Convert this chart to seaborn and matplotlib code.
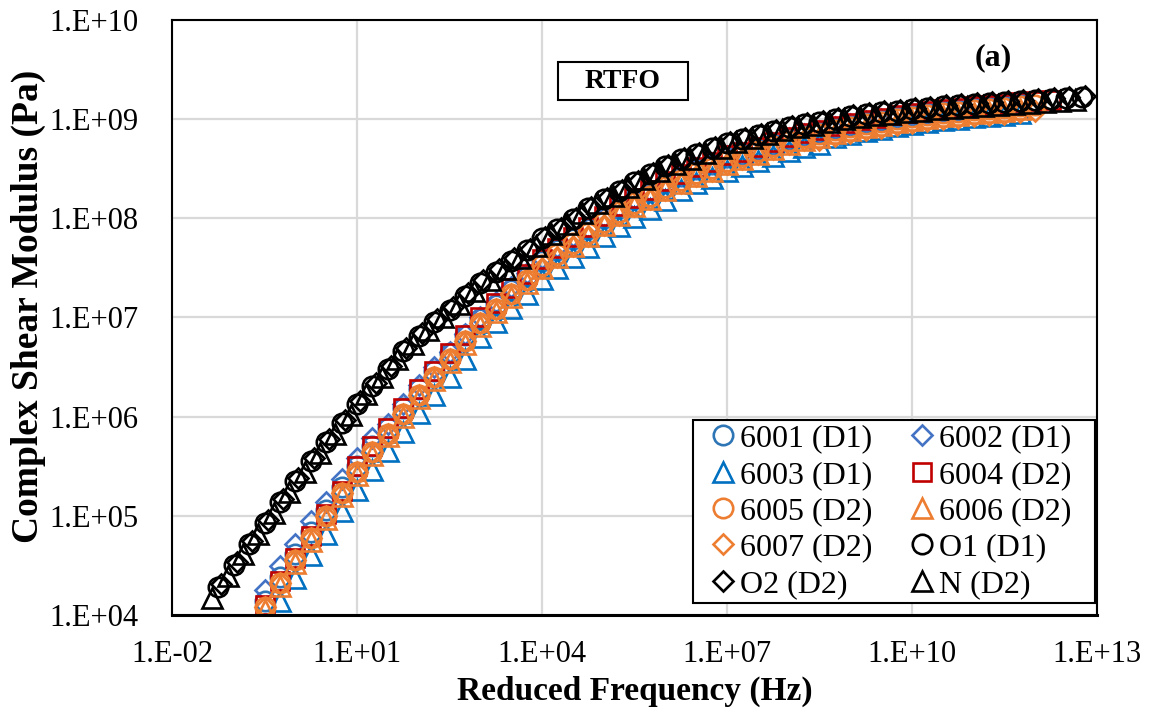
import numpy as np
import matplotlib
matplotlib.use("Agg")
import matplotlib.pyplot as plt
from matplotlib.patches import Rectangle
from matplotlib.ticker import NullLocator
import seaborn as sns

# Reduced-frequency grid: log10(f) of the first point of each curve, quarter-decade spacing
STEP = 0.25
start_6001 = -0.50
start_6002 = -0.50
start_6003 = -0.25
start_6004 = -0.50
start_6005 = -0.50
start_6006 = -0.50
start_6007 = -0.50
start_o1 = -1.25
start_o2 = -1.20
start_n = -1.35

# log10 of complex shear modulus |G*| (Pa)
g_6001 = [4.14, 4.38, 4.61, 4.84, 5.06, 5.29, 5.50, 5.70, 5.89, 6.09, 6.28, 6.46, 6.64, 6.82,
          6.98, 7.13, 7.28, 7.42, 7.57, 7.68, 7.79, 7.89, 8.00, 8.10, 8.19, 8.27, 8.36, 8.43,
          8.50, 8.55, 8.62, 8.65, 8.70, 8.75, 8.80, 8.84, 8.87, 8.91, 8.94, 8.97, 8.99, 9.02,
          9.04, 9.06, 9.08, 9.09, 9.11, 9.12, 9.13, 9.15]
g_6002 = [4.25, 4.49, 4.72, 4.95, 5.14, 5.37, 5.58, 5.78, 5.93, 6.13, 6.32, 6.50, 6.65, 6.83,
          7.01, 7.16, 7.31, 7.45, 7.60, 7.71, 7.82, 7.90, 8.01, 8.11, 8.20, 8.28, 8.37, 8.44,
          8.51, 8.56, 8.63, 8.66, 8.71, 8.76, 8.81, 8.85, 8.88, 8.92, 8.95, 8.98, 9.00, 9.03,
          9.05, 9.07, 9.09, 9.10, 9.12, 9.13, 9.14, 9.16]
g_6003 = [4.14, 4.37, 4.60, 4.82, 5.05, 5.26, 5.46, 5.65, 5.85, 6.04, 6.22, 6.40, 6.58, 6.80,
          6.95, 7.10, 7.24, 7.39, 7.50, 7.61, 7.71, 7.82, 7.92, 8.01, 8.09, 8.18, 8.29, 8.36,
          8.41, 8.48, 8.53, 8.58, 8.63, 8.68, 8.72, 8.75, 8.82, 8.85, 8.88, 8.90, 8.93, 8.95,
          8.97, 8.99, 9.00, 9.02, 9.03, 9.04, 9.06]
g_6004 = [4.10, 4.34, 4.57, 4.80, 5.02, 5.25, 5.50, 5.70, 5.89, 6.09, 6.28, 6.46, 6.64, 6.82,
          7.00, 7.15, 7.30, 7.44, 7.59, 7.70, 7.81, 7.91, 8.02, 8.12, 8.21, 8.29, 8.38, 8.45,
          8.52, 8.57, 8.64, 8.67, 8.72, 8.77, 8.82, 8.86, 8.89, 8.93, 8.96, 8.99, 9.01, 9.04,
          9.06, 9.08, 9.10, 9.11, 9.13, 9.14, 9.15, 9.17, 9.18, 9.19]
g_6005 = [4.08, 4.32, 4.55, 4.78, 5.00, 5.23, 5.44, 5.64, 5.83, 6.03, 6.22, 6.40, 6.58, 6.76,
          6.94, 7.09, 7.24, 7.38, 7.53, 7.64, 7.75, 7.85, 7.96, 8.06, 8.15, 8.23, 8.32, 8.39,
          8.46, 8.51, 8.58, 8.63, 8.68, 8.73, 8.78, 8.82, 8.85, 8.89, 8.92, 8.95, 8.97, 9.00,
          9.02, 9.04, 9.06, 9.07, 9.09, 9.10, 9.11, 9.13, 9.14]
g_6006 = [4.05, 4.29, 4.52, 4.75, 4.97, 5.20, 5.41, 5.61, 5.80, 6.00, 6.19, 6.37, 6.55, 6.73,
          6.91, 7.06, 7.21, 7.35, 7.50, 7.61, 7.72, 7.82, 7.93, 8.03, 8.12, 8.20, 8.29, 8.36,
          8.43, 8.48, 8.55, 8.60, 8.65, 8.70, 8.75, 8.79, 8.82, 8.86, 8.89, 8.92, 8.94, 8.97,
          8.99, 9.01, 9.03, 9.04, 9.06, 9.07, 9.08, 9.10]
g_6007 = [4.08, 4.32, 4.55, 4.78, 5.00, 5.23, 5.44, 5.64, 5.83, 6.03, 6.22, 6.40, 6.58, 6.76,
          6.94, 7.09, 7.24, 7.38, 7.50, 7.61, 7.72, 7.82, 7.93, 8.03, 8.12, 8.20, 8.29, 8.36,
          8.43, 8.48, 8.55, 8.60, 8.65, 8.70, 8.75, 8.79, 8.79, 8.83, 8.86, 8.89, 8.91, 8.94,
          8.96, 8.98, 9.00, 9.01, 9.03, 9.04, 9.05, 9.07, 9.08]
g_o1 = [4.28, 4.50, 4.72, 4.93, 5.14, 5.35, 5.55, 5.74, 5.94, 6.13, 6.31, 6.48, 6.66, 6.81,
        6.95, 7.08, 7.22, 7.35, 7.46, 7.57, 7.68, 7.80, 7.89, 7.99, 8.10, 8.20, 8.28, 8.37,
        8.45, 8.53, 8.60, 8.65, 8.71, 8.76, 8.80, 8.84, 8.88, 8.92, 8.95, 8.97, 9.00, 9.03,
        9.05, 9.07, 9.08, 9.10, 9.11, 9.13, 9.14, 9.15, 9.16, 9.17, 9.18, 9.19, 9.20, 9.21,
        9.22]
g_o2 = [4.31, 4.53, 4.75, 4.96, 5.17, 5.38, 5.58, 5.77, 5.97, 6.16, 6.34, 6.51, 6.69, 6.84,
        6.98, 7.11, 7.25, 7.38, 7.49, 7.60, 7.69, 7.81, 7.90, 8.00, 8.11, 8.21, 8.29, 8.38,
        8.46, 8.54, 8.61, 8.66, 8.72, 8.77, 8.81, 8.85, 8.89, 8.93, 8.96, 8.98, 9.01, 9.04,
        9.06, 9.08, 9.09, 9.11, 9.12, 9.14, 9.15, 9.16, 9.17, 9.18, 9.19, 9.20, 9.21, 9.22,
        9.23]
g_n = [4.17, 4.39, 4.61, 4.82, 5.03, 5.24, 5.44, 5.63, 5.83, 6.02, 6.23, 6.40, 6.58, 6.73,
       6.87, 7.00, 7.14, 7.27, 7.38, 7.49, 7.60, 7.72, 7.84, 7.94, 8.05, 8.15, 8.23, 8.32,
       8.40, 8.48, 8.55, 8.60, 8.66, 8.71, 8.77, 8.81, 8.85, 8.89, 8.92, 8.94, 8.97, 9.00,
       9.02, 9.04, 9.05, 9.07, 9.08, 9.10, 9.11, 9.12, 9.13, 9.14, 9.15, 9.16, 9.17, 9.18,
       9.19]

labels = ["6001 (D1)", "6002 (D1)", "6003 (D1)", "6004 (D2)", "6005 (D2)",
          "6006 (D2)", "6007 (D2)", "O1 (D1)", "O2 (D2)", "N (D2)"]

x_ticks = [1e-2, 1e1, 1e4, 1e7, 1e10, 1e13]
x_tick_labels = ["1.E-02", "1.E+01", "1.E+04", "1.E+07", "1.E+10", "1.E+13"]
y_ticks = [1e4, 1e5, 1e6, 1e7, 1e8, 1e9, 1e10]
y_tick_labels = ["1.E+04", "1.E+05", "1.E+06", "1.E+07", "1.E+08", "1.E+09", "1.E+10"]

BLUE_C = "#2E75B6"
BLUE_D = "#4472C4"
BLUE_T = "#0070C0"
RED = "#C00000"
ORANGE = "#ED7D31"
BLACK = "#000000"

series = [
    (labels[0], start_6001, g_6001, "o", 14.0, BLUE_C),
    (labels[1], start_6002, g_6002, "D", 10.0, BLUE_D),
    (labels[2], start_6003, g_6003, "^", 14.0, BLUE_T),
    (labels[3], start_6004, g_6004, "s", 13.0, RED),
    (labels[4], start_6005, g_6005, "o", 14.0, ORANGE),
    (labels[5], start_6006, g_6006, "^", 14.0, ORANGE),
    (labels[6], start_6007, g_6007, "D", 10.0, ORANGE),
    (labels[7], start_o1, g_o1, "o", 14.0, BLACK),
    (labels[8], start_o2, g_o2, "D", 10.0, BLACK),
    (labels[9], start_n, g_n, "^", 14.0, BLACK),
]

sns.set_theme(style="white")
plt.rcParams["font.family"] = ["Liberation Serif", "DejaVu Serif"]
plt.rcParams["text.color"] = "black"
plt.rcParams["axes.labelcolor"] = "black"
plt.rcParams["legend.labelcolor"] = "black"

fig = plt.figure(figsize=(11.53, 7.15), dpi=100)
ax = fig.add_axes([0.1492, 0.1399, 0.8022, 0.8321])
ax.set_xscale("log")
ax.set_yscale("log")

for lab, start, vals, mk, ms, col in series:
    logf = start + STEP * np.arange(len(vals))
    sns.lineplot(x=10.0 ** logf, y=10.0 ** np.asarray(vals), ax=ax,
                 estimator=None, sort=False, linestyle="none",
                 marker=mk, markersize=ms, markerfacecolor="none",
                 markeredgecolor=col, markeredgewidth=1.9, color=col,
                 label=lab)

ax.set_xlim(1e-2, 1e13)
ax.set_ylim(1e4, 1e10)
ax.set_xticks(x_ticks)
ax.set_xticklabels(x_tick_labels)
ax.set_yticks(y_ticks)
ax.set_yticklabels(y_tick_labels)
ax.xaxis.set_minor_locator(NullLocator())
ax.yaxis.set_minor_locator(NullLocator())
ax.tick_params(axis="both", length=0, labelsize=22, colors="black")
ax.tick_params(axis="x", pad=18)
ax.tick_params(axis="y", pad=24)

ax.grid(True, which="major", color="#D9D9D9", linewidth=1.6)
ax.set_axisbelow(True)
for side in ["left", "right", "top"]:
    ax.spines[side].set_color("black")
    ax.spines[side].set_linewidth(1.5)
ax.spines["bottom"].set_color("black")
ax.spines["bottom"].set_linewidth(2.2)

ax.set_xlabel("Reduced Frequency (Hz)", fontsize=24, fontweight="bold", color="black")
ax.set_ylabel("Complex Shear Modulus (Pa)", fontsize=27, fontweight="bold", color="black")
ax.xaxis.set_label_coords(0.5, -0.1025)
ax.yaxis.set_label_coords(-0.136, 0.519)

# sample label box and panel tag
ax.add_patch(Rectangle((0.4173, 0.8655), 0.1405, 0.0639, transform=ax.transAxes,
                       facecolor="white", edgecolor="black", linewidth=1.5, zorder=5))
ax.text(0.4876, 0.8975, "RTFO", transform=ax.transAxes, ha="center", va="center",
        fontsize=20, fontweight="bold", color="black", zorder=6)
ax.text(0.8876, 0.936, "(a)", transform=ax.transAxes, ha="center", va="center",
        fontsize=23, fontweight="bold", color="black", zorder=6)

# legend box drawn separately so the entries can sit freely inside it
ax.add_patch(Rectangle((0.5632, 0.0202), 0.4346, 0.3075, transform=ax.transAxes,
                       facecolor="white", edgecolor="black", linewidth=1.5, zorder=8))
handles, labs = ax.get_legend_handles_labels()
order = [0, 2, 4, 6, 8, 1, 3, 5, 7, 9]
leg = ax.legend([handles[i] for i in order], [labs[i] for i in order], ncol=2,
                loc="upper left", bbox_to_anchor=(0.5836, 0.321), frameon=False,
                fontsize=23, handlelength=0.7, handletextpad=0.18, columnspacing=1.22,
                labelspacing=0.22, borderpad=0.0, borderaxespad=0)
for t in leg.get_texts():
    t.set_color("black")
leg.set_zorder(10)

fig.savefig("out.png", dpi=100)
